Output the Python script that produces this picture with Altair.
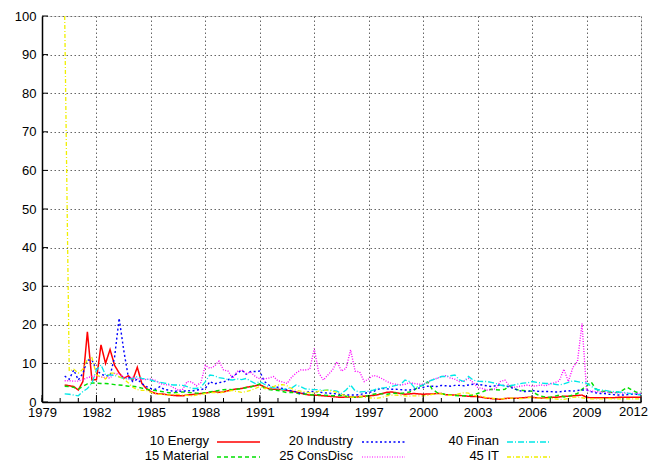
import altair as alt
import pandas as pd

# quarterly observations from 1980Q2 to 2012Q1
n_points = 128
quarters = [1980.25 + 0.25 * i for i in range(n_points)]

series_names = ["10 Energy", "15 Material", "20 Industry", "25 ConsDisc", "40 Finan", "45 IT"]
series_colors = ["#ff0000", "#00e000", "#0000ff", "#ff00ff", "#00e8e8", "#f0f000"]

energy = [
    4.4, 4.2, 4.0,
    3.1, 5.3, 18.2, 5.7,
    5.8, 14.8, 10.0, 13.6,
    9.5, 7.5, 6.1, 6.8,
    5.7, 9.0, 4.8, 3.5,
    2.7, 2.2, 2.1, 2.0,
    1.8, 1.7, 1.6, 1.6,
    1.8, 1.9, 2.1, 2.2,
    2.3, 2.5, 2.7, 2.5,
    2.6, 2.9, 3.2, 3.4,
    3.5, 3.8, 4.0, 4.2,
    4.5, 3.9, 3.4, 3.3,
    3.3, 3.2, 3.0, 2.8,
    2.6, 2.3, 2.0, 1.8,
    1.8, 1.7, 1.6, 1.5,
    1.4, 1.3, 1.2, 1.3,
    1.3, 1.2, 1.4, 1.5,
    1.6, 1.7, 1.9, 2.2,
    2.5, 2.6, 2.4, 2.2,
    2.0, 2.1, 2.2, 2.1,
    2.0, 2.1, 2.1, 2.2,
    2.2, 1.9, 1.8, 1.8,
    1.7, 1.6, 1.5, 1.4,
    1.4, 1.2, 1.0, 0.9,
    0.8, 0.7, 0.9, 1.0,
    1.0, 1.0, 1.1, 1.2,
    1.2, 1.1, 1.0, 1.1,
    1.2, 1.2, 1.3, 1.5,
    1.5, 1.6, 1.7, 1.8,
    1.2, 1.1, 1.1, 1.1,
    1.1, 1.1, 1.1, 1.2,
    1.2, 1.2, 1.2, 1.2,
    1.2,
]

material = [
    4.1, 4.0, 3.8,
    3.3, 4.1, 4.7, 4.9,
    4.9, 4.8, 4.8, 4.7,
    4.5, 4.4, 4.3, 4.1,
    4.1, 3.9, 3.6, 3.3,
    3.1, 3.0, 2.8, 2.6,
    2.4, 2.4, 2.5, 2.6,
    2.5, 2.4, 2.3, 2.2,
    2.4, 2.6, 2.8, 3.0,
    3.2, 3.3, 3.2, 3.3,
    3.5, 3.7, 3.9, 4.3,
    4.7, 3.6, 3.2, 3.1,
    3.0, 2.7, 2.4, 2.5,
    2.3, 2.0, 2.1, 1.9,
    1.8, 1.9, 1.8, 1.7,
    1.6, 1.6, 1.7, 1.5,
    1.3, 1.2, 1.3, 1.5,
    1.6, 2.0, 2.2, 2.1,
    2.0, 2.2, 2.3, 2.2,
    2.4, 2.6, 3.1, 4.0,
    4.4, 5.2, 3.3, 2.5,
    2.2, 1.9, 1.8, 1.7,
    1.6, 1.6, 1.7, 1.8,
    2.2, 2.6, 3.1, 3.3,
    3.2, 3.1, 3.3, 4.2,
    3.4, 3.1, 3.0, 2.9,
    2.8, 2.0, 1.5, 1.3,
    1.2, 1.5, 1.8, 1.3,
    1.5, 1.8, 2.2, 3.3,
    4.1, 5.2, 3.5, 2.7,
    2.8, 2.6, 2.4, 2.5,
    3.1, 3.8, 3.1, 2.5,
    2.6,
]

industry = [
    6.7, 5.9, 8.3,
    5.7, 7.4, 10.9, 10.9,
    8.3, 7.2, 6.8, 6.8,
    11.7, 21.7, 13.5, 6.6,
    5.3, 5.9, 4.8, 4.0,
    3.5, 3.3, 4.0, 3.2,
    3.1, 2.7, 2.9, 2.7,
    3.0, 2.8, 3.1, 3.2,
    3.5, 5.3, 4.7, 5.0,
    5.2, 5.7, 6.6, 7.4,
    8.3, 7.2, 7.9, 7.9,
    8.0, 5.3, 4.4, 3.8,
    3.8, 3.5, 3.1, 2.9,
    2.6, 2.2, 2.4, 2.7,
    2.7, 2.6, 2.4, 2.3,
    2.2, 2.1, 1.9, 1.8,
    1.8, 1.8, 1.9, 2.2,
    2.5, 2.7, 3.3, 3.5,
    3.4, 3.3, 3.3, 3.2,
    3.1, 3.1, 3.3, 3.6,
    3.8, 4.1, 4.1, 4.0,
    4.3, 4.2, 4.1, 4.3,
    4.3, 4.2, 4.4, 4.6,
    4.6, 4.4, 4.2, 4.0,
    4.2, 4.5, 4.2, 3.9,
    3.5, 3.0, 2.7, 2.7,
    3.0, 2.8, 2.7, 2.7,
    2.7, 2.6, 2.6, 2.8,
    2.9, 2.8, 3.0, 3.1,
    3.1, 2.7, 2.4, 2.2,
    2.2, 2.0, 1.9, 1.8,
    1.8, 1.9, 2.0, 2.0,
    2.0,
]

consdisc = [
    5.5, 5.5, 5.4,
    5.4, 5.8, 6.3, 6.6,
    6.8, 6.5, 6.3, 6.2,
    7.4, 7.2, 6.5, 6.0,
    6.4, 6.0, 5.9, 5.8,
    6.0, 5.6, 4.8, 4.5,
    4.4, 3.7, 3.1, 3.3,
    5.3, 5.2, 4.2, 5.0,
    9.5, 8.7, 9.3, 10.6,
    8.3, 8.0, 6.1, 7.9,
    8.3, 7.4, 7.7, 6.6,
    6.0, 6.0, 6.2, 6.6,
    5.5, 5.2, 4.8, 6.4,
    7.5, 8.3, 8.3, 8.5,
    13.8, 7.5, 5.7, 7.0,
    8.3, 10.4, 8.0, 8.7,
    13.5, 8.0, 7.8, 5.3,
    6.0, 6.9, 6.6, 6.0,
    5.3, 4.8, 4.6, 4.4,
    4.6, 5.0, 4.8, 4.6,
    4.6, 5.0, 5.8, 6.1,
    6.6, 6.8, 6.2, 5.9,
    5.3, 5.5, 6.1, 5.0,
    3.8, 3.5, 3.1, 3.2,
    3.4, 5.3, 5.7, 4.2,
    3.8, 4.0, 4.2, 4.4,
    4.1, 4.2, 4.4, 4.2,
    4.7, 5.0, 5.5, 8.5,
    5.3, 9.0, 10.5, 20.3,
    3.1, 2.8, 2.7, 2.6,
    2.6, 2.5, 2.4, 2.4,
    2.3, 2.3, 2.2, 2.2,
    2.2,
]

finan = [
    2.1, 2.0, 1.8,
    1.6, 2.7, 3.5, 4.8,
    8.3, 9.6, 7.0, 7.0,
    6.9, 6.5, 6.1, 6.0,
    6.0, 6.6, 6.1, 5.9,
    5.7, 5.3, 5.1, 4.9,
    4.6, 4.4, 4.4, 4.3,
    4.0, 3.5, 3.5, 3.8,
    5.3, 7.0, 6.8, 6.3,
    6.1, 5.8, 5.7, 6.0,
    5.8, 6.1, 5.4, 4.8,
    5.3, 4.6, 3.9, 3.7,
    3.4, 3.2, 3.5, 3.6,
    4.4, 4.0, 3.4, 3.3,
    3.2, 3.2, 3.0, 3.1,
    3.0, 2.8, 2.2, 3.1,
    4.4, 2.9, 2.6, 2.7,
    2.8, 3.1, 3.5, 3.6,
    3.8, 4.0, 4.3, 4.5,
    5.7, 5.3, 3.8, 4.0,
    4.4, 5.3, 5.7, 6.1,
    6.6, 6.6, 6.8, 7.0,
    5.7, 5.3, 6.6, 5.7,
    5.4, 5.3, 5.3, 5.1,
    4.8, 4.4, 4.1, 4.2,
    4.4, 4.7, 4.9, 5.0,
    5.3, 5.1, 4.9, 4.8,
    4.8, 4.6, 4.4, 4.7,
    5.1, 5.5, 5.3, 5.0,
    4.9, 4.1, 3.3, 3.1,
    3.0, 2.8, 2.7, 2.6,
    2.5, 2.3, 2.1, 2.0,
    1.8,
]

it = [
    100.0, 8.0, 8.5,
    7.5, 8.5, 11.0, 11.5,
    7.0, 6.5, 6.0, 7.5,
    7.5, 6.5, 6.0, 5.0,
    3.8, 3.2, 3.0, 3.0,
    2.5, 2.2, 2.0, 1.9,
    1.8, 1.9, 2.0, 1.8,
    1.7, 1.6, 1.8, 1.9,
    2.2, 2.4, 2.5, 2.3,
    2.6, 2.8, 3.0, 2.7,
    2.5, 2.7, 3.0, 3.5,
    4.0, 3.5, 3.6, 4.0,
    4.4, 4.5, 4.2, 3.5,
    3.0, 2.8, 2.6, 2.4,
    2.4, 2.8, 3.0, 3.1,
    2.8, 2.5, 2.0, 1.6,
    1.3, 1.2, 1.4, 1.3,
    1.1, 1.0, 1.0, 1.2,
    1.6, 1.8, 1.8, 1.7,
    1.6, 1.5, 1.6, 1.6,
    1.6, 1.7, 2.0, 2.2,
    2.1, 1.8, 1.7, 1.8,
    2.2, 2.4, 2.3, 1.8,
    1.5, 1.5, 1.1, 1.0,
    0.9, 0.8, 0.9, 1.0,
    1.0, 0.9, 0.9, 1.1,
    1.2, 1.0, 1.0, 0.9,
    0.9, 0.8, 0.7, 0.7,
    0.9, 1.2, 1.3, 1.1,
    0.9, 0.8, 0.8, 0.8,
    0.8, 0.9, 0.8, 0.8,
    0.8, 0.8, 0.8, 0.8,
    0.8,
]

x_tick_labels = [1979, 1982, 1985, 1988, 1991, 1994, 1997, 2000, 2003, 2006, 2009, 2012]
y_tick_labels = [0, 10, 20, 30, 40, 50, 60, 70, 80, 90, 100]
minor_years = list(range(1979, 2013))

# ---- build the long table ----
all_values = [energy, material, industry, consdisc, finan, it]
rows = []
for name, vals in zip(series_names, all_values):
    for q, v in zip(quarters, vals):
        rows.append({"year": q, "value": v, "series": name})
df = pd.DataFrame(rows)

dashes = [[1, 0], [4, 3], [2, 2.5], [1, 1.5], [6, 2, 1, 2], [4, 2, 1, 2]]
widths = [1.5, 1.3, 1.7, 1.1, 1.4, 1.4]

W, H = 599, 386
FONT = "Liberation Sans"
GRID = dict(gridColor="#666666", gridDash=[1.5, 2.5], gridWidth=1)

x_scale = alt.Scale(domain=[1979, 2012], nice=False, zero=False)
y_scale = alt.Scale(domain=[0, 100], nice=False)
last_year = x_tick_labels[-1]

x_axis = alt.Axis(values=x_tick_labels, format="d", grid=True, ticks=False,
                  labelPadding=4, labelFontSize=13, labelFont=FONT,
                  labelColor="black", domainColor="black", domainWidth=1.5,
                  labelFlush=False, labelOverlap=False,
                  labelExpr=f"datum.value == {last_year} ? '' : datum.label", **GRID)
y_axis = alt.Axis(values=y_tick_labels, grid=True, ticks=False,
                  labelPadding=6, labelFontSize=13, labelFont=FONT,
                  labelColor="black", domainColor="black", domainWidth=1.5,
                  labelOverlap=False, labelFlush=False, **GRID)

lines = alt.Chart(df).mark_line(clip=True, strokeCap="butt").encode(
    x=alt.X("year:Q", scale=x_scale, title=None, axis=x_axis),
    y=alt.Y("value:Q", scale=y_scale, title=None, axis=y_axis),
    color=alt.Color("series:N", scale=alt.Scale(domain=series_names, range=series_colors), legend=None),
    strokeDash=alt.StrokeDash("series:N", scale=alt.Scale(domain=series_names, range=dashes), legend=None),
    strokeWidth=alt.StrokeWidth("series:N", scale=alt.Scale(domain=series_names, range=widths), legend=None),
    detail="series:N",
)

# last x label kept inside the page edge
last_label = alt.Chart(pd.DataFrame({"year": [last_year], "label": [str(last_year)]})).mark_text(
    align="right", baseline="top", font=FONT, fontSize=13, color="black", dx=7, dy=4
).encode(x=alt.X("year:Q", scale=x_scale, title=None, axis=x_axis), y=alt.value(H), text="label:N")

# inward tick marks (gnuplot style)
xt_df = pd.DataFrame({"year": minor_years})
x_ticks = alt.Chart(xt_df).mark_rule(color="black", strokeWidth=1).encode(
    x=alt.X("year:Q", scale=x_scale, title=None, axis=x_axis),
    y=alt.value(H), y2=alt.value(H - 4),
)
xt_major = alt.Chart(pd.DataFrame({"year": x_tick_labels})).mark_rule(color="black", strokeWidth=1).encode(
    x=alt.X("year:Q", scale=x_scale, title=None, axis=x_axis),
    y=alt.value(H), y2=alt.value(H - 7),
)
yt_df = pd.DataFrame({"v": y_tick_labels})
y_ticks = alt.Chart(yt_df).mark_rule(color="black", strokeWidth=1).encode(
    y=alt.Y("v:Q", scale=y_scale, title=None, axis=y_axis),
    x=alt.value(0), x2=alt.value(6),
)

# custom legend: label right-aligned, sample line to its right, 3 columns x 2 rows
col_text_right = [167, 311, 457]
col_sample_left = [175, 320, 465]
sample_len = 43
row_y = [425, 440]
legend_layers = []
for i, name in enumerate(series_names):
    c, r = i // 2, i % 2
    ldf = pd.DataFrame({"label": [name]})
    legend_layers.append(
        alt.Chart(ldf).mark_text(align="right", baseline="middle", font=FONT, fontSize=13, color="black").encode(
            text="label:N", x=alt.value(col_text_right[c]), y=alt.value(row_y[r]))
    )
    legend_layers.append(
        alt.Chart(ldf).mark_rule(color=series_colors[i], strokeDash=dashes[i], strokeWidth=widths[i]).encode(
            x=alt.value(col_sample_left[c]), x2=alt.value(col_sample_left[c] + sample_len),
            y=alt.value(row_y[r] + 1))
    )

chart = alt.layer(lines, last_label, x_ticks, xt_major, y_ticks, *legend_layers).properties(
    width=W, height=H,
    autosize=alt.AutoSizeParams(type="none"),
    padding={"left": 34, "top": 8, "right": 7, "bottom": 62},
).configure_view(stroke=None).configure(background="white")

chart.save("out.html", embed_options={"renderer": "svg", "actions": False})
